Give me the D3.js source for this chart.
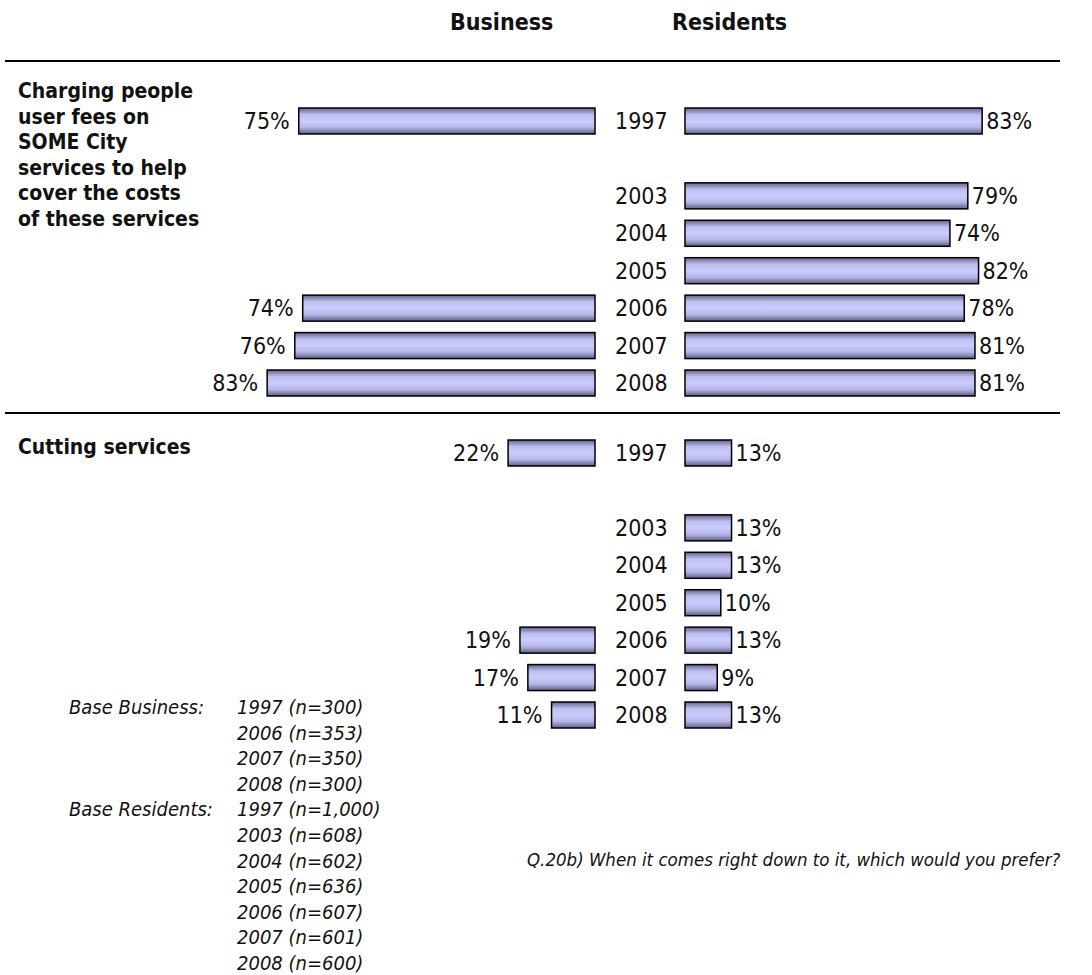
<!DOCTYPE html>
<html>
<head>
<meta charset="utf-8">
<script src="https://cdn.jsdelivr.net/npm/d3@7"></script>
<style>
  body { margin: 0; background: #fff; }
  svg text { font-family: "DejaVu Sans Condensed", "DejaVu Sans", sans-serif; fill: #111; }
</style>
</head>
<body>
<div id="chart"></div>
<script>
// row slots, 1998-2002 left empty in the source
const slots = ["1997", "gap", "2003", "2004", "2005", "2006", "2007", "2008"];
const resYears = ["1997", "2003", "2004", "2005", "2006", "2007", "2008"];
const bizYears = ["1997", "2006", "2007", "2008"];

const bizFees = [75, 74, 76, 83];
const resFees = [83, 79, 74, 82, 78, 81, 81];
const bizCuts = [22, 19, 17, 11];
const resCuts = [13, 13, 13, 10, 13, 9, 13];

const feesLabel = ["Charging people", "user fees on", "SOME City", "services to help", "cover the costs", "of these services"];
const cutsLabel = ["Cutting services"];

const baseBizYears = ["1997 (n=300)", "2006 (n=353)", "2007 (n=350)", "2008 (n=300)"];
const baseResYears = ["1997 (n=1,000)", "2003 (n=608)", "2004 (n=602)", "2005 (n=636)", "2006 (n=607)", "2007 (n=601)", "2008 (n=600)"];
const question = "Q.20b) When it comes right down to it, which would you prefer?";

const W = 1092, H = 975;
const svg = d3.select("#chart").append("svg").attr("width", W).attr("height", H);

const grad = svg.append("defs").append("linearGradient")
    .attr("id", "barFill").attr("x1", 0).attr("y1", 0).attr("x2", 0).attr("y2", 1);
grad.append("stop").attr("offset", "0%").attr("stop-color", "#62628a");
grad.append("stop").attr("offset", "25%").attr("stop-color", "#bdbdee");
grad.append("stop").attr("offset", "50%").attr("stop-color", "#ccccff");
grad.append("stop").attr("offset", "75%").attr("stop-color", "#b5b5e6");
grad.append("stop").attr("offset", "100%").attr("stop-color", "#5e5e86");

const xBiz = d3.scaleLinear().domain([0, 100]).range([595, 200]);
const xRes = d3.scaleLinear().domain([0, 100]).range([685, 1043]);
const barH = 26;

// headers
svg.append("text").attr("x", 450).attr("y", 30).style("font-weight", "bold").style("font-size", "23px").text("Business");
svg.append("text").attr("x", 672).attr("y", 30).style("font-weight", "bold").style("font-size", "23px").text("Residents");

// rules
[61, 413].forEach(y => {
    svg.append("line").attr("x1", 5).attr("x2", 1060).attr("y1", y).attr("y2", y)
        .attr("stroke", "#000").attr("stroke-width", 2);
});

function panel(top, bottom, bizVals, resVals, label, labelY) {
    const y = d3.scalePoint().domain(slots).range([top, bottom]);
    const g = svg.append("g");

    g.selectAll(".lbl").data(label).enter().append("text")
        .attr("x", 18).attr("y", (d, i) => labelY + i * 25.6)
        .style("font-weight", "bold").style("font-size", "21px").text(d => d);

    g.selectAll(".yr").data(resYears).enter().append("text")
        .attr("x", 615).attr("y", d => y(d) + 8).style("font-size", "23px").text(d => d);

    g.selectAll(".bb").data(bizVals).enter().append("rect")
        .attr("x", d => xBiz(d)).attr("y", (d, i) => y(bizYears[i]) - barH / 2)
        .attr("width", d => xBiz(0) - xBiz(d)).attr("height", barH)
        .attr("fill", "url(#barFill)").attr("stroke", "#000").attr("stroke-width", 1.5);
    g.selectAll(".bt").data(bizVals).enter().append("text")
        .attr("x", d => xBiz(d) - 9).attr("y", (d, i) => y(bizYears[i]) + 8)
        .attr("text-anchor", "end").style("font-size", "23px").text(d => d + "%");

    g.selectAll(".rb").data(resVals).enter().append("rect")
        .attr("x", xRes(0)).attr("y", (d, i) => y(resYears[i]) - barH / 2)
        .attr("width", d => xRes(d) - xRes(0)).attr("height", barH)
        .attr("fill", "url(#barFill)").attr("stroke", "#000").attr("stroke-width", 1.5);
    g.selectAll(".rt").data(resVals).enter().append("text")
        .attr("x", d => xRes(d) + 4).attr("y", (d, i) => y(resYears[i]) + 8)
        .style("font-size", "23px").text(d => d + "%");
}

panel(121, 383, bizFees, resFees, feesLabel, 98);
panel(453, 715, bizCuts, resCuts, cutsLabel, 454);

// base notes
const notes = svg.append("g").style("font-style", "italic").style("font-size", "20px");
notes.append("text").attr("x", 69).attr("y", 714).text("Base Business:");
notes.append("text").attr("x", 69).attr("y", 714 + 4 * 25.6).text("Base Residents:");
notes.selectAll(".nb").data(baseBizYears.concat(baseResYears)).enter().append("text")
    .attr("x", 237).attr("y", (d, i) => 714 + i * 25.6).text(d => d);

svg.append("text").attr("x", 527).attr("y", 866)
    .style("font-style", "italic").style("font-size", "18.5px").text(question);
</script>
</body>
</html>
